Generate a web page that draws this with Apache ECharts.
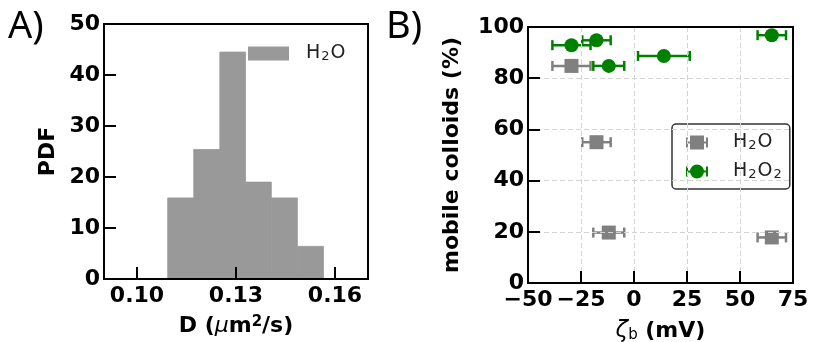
<!DOCTYPE html>
<html>
<head>
<meta charset="utf-8">
<script src="https://cdn.jsdelivr.net/npm/echarts@6/dist/echarts.min.js"></script>
<style>
  html, body { margin: 0; padding: 0; background: #fff; }
  #chart { width: 813px; height: 342px; }
</style>
</head>
<body>
<div id="chart"></div>
<script>
// A) histogram of D
const binEdges = [0.1093, 0.1172, 0.1251, 0.1329, 0.1407, 0.1486, 0.1565];
const pdfValues = [15.9, 25.4, 44.5, 19.0, 15.9, 6.4];
const dTicks = [0.10, 0.13, 0.16];

// B) mobile colloids vs zeta potential
const zetaH2O = [-29.5, -17.7, -11.9, 65.0];
const mobileH2O = [84.8, 55.0, 19.7, 17.8];
const errH2O = [9.0, 6.7, 7.3, 6.7];
const zetaH2O2 = [-29.5, -17.7, -11.9, 14.1, 65.0];
const mobileH2O2 = [92.9, 94.8, 84.8, 88.7, 96.8];
const errH2O2 = [9.0, 6.7, 7.3, 12.2, 6.7];

const FONT = 'DejaVu Sans';
const GRAY_HIST = '#999999';
const GRAY = '#808080';
const GREEN = '#008000';

const chart = echarts.init(document.getElementById('chart'));

const histData = pdfValues.map((h, i) => [binEdges[i], binEdges[i + 1], h]);
const zip = (xs, ys, es) => xs.map((x, i) => [x, ys[i], es[i]]);

const tickLabel = { color: '#000', fontFamily: FONT, fontWeight: 'bold', fontSize: 22 };
const axisTick = { show: true, inside: true, length: 12, lineStyle: { color: '#000', width: 2 } };
const noLine = { show: false, onZero: false };
const bold = { fontFamily: FONT, fontWeight: 'bold', fontSize: 22, color: '#000' };
const gridLine = { show: true, lineStyle: { color: '#d4d4d4', type: [5, 3], width: 1 } };

// legend text with real subscripts
const legendRich = {
  n: { fontFamily: FONT, fontSize: 19, color: '#222' },
  s: { fontFamily: FONT, fontSize: 13, color: '#222', verticalAlign: 'bottom', padding: [6, 1, 0, 1] },
};
const chem = (name) => name === 'H₂O₂' ? '{n|H}{s|2}{n|O}{s|2}' : '{n|H}{s|2}{n|O}';

function errorBarItem(color, marker) {
  return (params, api) => {
    const x = api.value(0), y = api.value(1), e = api.value(2);
    const p = api.coord([x, y]);
    const l = api.coord([x - e, y]);
    const r = api.coord([x + e, y]);
    const cap = 5;
    const ls = { stroke: color, lineWidth: 2.5 };
    const children = [
      { type: 'line', shape: { x1: l[0], y1: p[1], x2: r[0], y2: p[1] }, style: ls },
      { type: 'line', shape: { x1: l[0], y1: p[1] - cap, x2: l[0], y2: p[1] + cap }, style: ls },
      { type: 'line', shape: { x1: r[0], y1: p[1] - cap, x2: r[0], y2: p[1] + cap }, style: ls },
    ];
    if (marker === 'square') {
      children.push({ type: 'rect', shape: { x: p[0] - 7, y: p[1] - 7, width: 14, height: 14 }, style: { fill: color } });
    } else {
      children.push({ type: 'circle', shape: { cx: p[0], cy: p[1], r: 7 }, style: { fill: color } });
    }
    return { type: 'group', children };
  };
}

const squareIcon = 'path://M0,2h2v10h-2z M2,6h20v2h-20z M20,2h2v10h-2z M4,0h14v14h-14z';
const circleIcon = 'path://M0,2h2v10h-2z M2,6h20v2h-20z M20,2h2v10h-2z M4,7a7,7 0 1,1 14,0a7,7 0 1,1 -14,0z';

const panelFont = "'Liberation Sans Narrow', 'Noto Sans'";

const option = {
  animation: false,
  backgroundColor: '#fff',
  graphic: [
    { type: 'text', x: 8, y: 8, style: { text: 'A)', fontFamily: panelFont, fontSize: 38, fill: '#000' } },
    { type: 'text', x: 386, y: 8, style: { text: 'B)', fontFamily: panelFont, fontSize: 38, fill: '#000' } },
  ],
  grid: [
    { left: 104, top: 24, width: 264, height: 255, outerBoundsMode: 'none', show: true, borderColor: '#000', borderWidth: 2, backgroundColor: 'transparent', z: 10 },
    { left: 528, top: 27, width: 265, height: 256, outerBoundsMode: 'none', show: true, borderColor: '#000', borderWidth: 2, backgroundColor: 'transparent', z: 10 },
  ],
  legend: [
    {
      left: 248, top: 44, padding: 0, itemWidth: 41, itemHeight: 14,
      data: [{ name: 'H₂O', icon: 'rect', itemStyle: { color: GRAY_HIST } }],
      formatter: chem,
      textStyle: { padding: [0, 0, 0, 12], rich: legendRich },
      selectedMode: false,
    },
    {
      left: 672, top: 124, orient: 'vertical', itemGap: 10, itemWidth: 22, itemHeight: 14,
      padding: [9, 8, 8, 14], borderColor: '#333', borderWidth: 1.5, borderRadius: 4,
      backgroundColor: '#fff',
      data: [
        { name: 'H₂O', icon: squareIcon, itemStyle: { color: GRAY } },
        { name: 'H₂O₂', icon: circleIcon, itemStyle: { color: GREEN } },
      ],
      formatter: chem,
      textStyle: { padding: [0, 0, 0, 20], rich: legendRich },
      selectedMode: false,
    },
  ],
  xAxis: [
    {
      type: 'value', gridIndex: 0, min: 0.09, max: 0.17, z: 5,
      axisLine: noLine,
      axisTick: Object.assign({ customValues: dTicks }, axisTick),
      axisLabel: Object.assign({ customValues: dTicks, margin: 6, formatter: (v) => v.toFixed(2) }, tickLabel),
      splitLine: { show: false },
      name: '{b|D (}{i|μ}{b|m}{sup|2}{b|/s)}',
      nameLocation: 'middle', nameGap: 36,
      nameTextStyle: {
        rich: {
          b: bold,
          i: { fontFamily: FONT, fontStyle: 'italic', fontSize: 22, color: '#000' },
          sup: { fontFamily: FONT, fontWeight: 'bold', fontSize: 15, color: '#000', verticalAlign: 'top', padding: [0, 0, 8, 0] },
        },
      },
    },
    {
      type: 'value', gridIndex: 1, min: -50, max: 75, interval: 25, z: 5,
      axisLine: noLine,
      axisTick: axisTick,
      axisLabel: Object.assign({ margin: 6, formatter: (v) => String(v).replace('-', '\u2212') }, tickLabel),
      splitLine: gridLine,
      name: '{i|ζ}{sub|b}{b| (mV)}',
      nameLocation: 'middle', nameGap: 37,
      nameTextStyle: {
        rich: {
          b: bold,
          i: { fontFamily: FONT, fontStyle: 'italic', fontSize: 23, color: '#000' },
          sub: { fontFamily: FONT, fontSize: 15, color: '#000', verticalAlign: 'bottom', padding: [8, 0, 0, 0] },
        },
      },
    },
  ],
  yAxis: [
    {
      type: 'value', gridIndex: 0, min: 0, max: 50, interval: 10, z: 5,
      axisLine: noLine,
      axisTick: axisTick,
      axisLabel: Object.assign({ margin: 4 }, tickLabel),
      splitLine: { show: false },
      name: 'PDF', nameLocation: 'middle', nameGap: 45, nameTextStyle: bold,
    },
    {
      type: 'value', gridIndex: 1, min: 0, max: 100, interval: 20, z: 5,
      axisLine: noLine,
      axisTick: axisTick,
      axisLabel: Object.assign({ margin: 4 }, tickLabel),
      splitLine: gridLine,
      name: 'mobile colloids (%)', nameLocation: 'middle', nameGap: 65, nameTextStyle: bold,
    },
  ],
  series: [
    {
      name: 'H₂O', type: 'custom', xAxisIndex: 0, yAxisIndex: 0,
      itemStyle: { color: GRAY_HIST },
      encode: { x: [0, 1], y: 2 },
      data: histData,
      renderItem: (params, api) => {
        const p0 = api.coord([api.value(0), 0]);
        const p1 = api.coord([api.value(1), api.value(2)]);
        return {
          type: 'rect',
          shape: { x: p0[0], y: p1[1], width: p1[0] - p0[0], height: p0[1] - p1[1] },
          style: { fill: GRAY_HIST, stroke: GRAY_HIST, lineWidth: 0.8 },
        };
      },
    },
    {
      name: 'H₂O', type: 'custom', xAxisIndex: 1, yAxisIndex: 1,
      itemStyle: { color: GRAY },
      encode: { x: 0, y: 1 },
      data: zip(zetaH2O, mobileH2O, errH2O),
      renderItem: errorBarItem(GRAY, 'square'),
    },
    {
      name: 'H₂O₂', type: 'custom', xAxisIndex: 1, yAxisIndex: 1,
      itemStyle: { color: GREEN },
      encode: { x: 0, y: 1 },
      data: zip(zetaH2O2, mobileH2O2, errH2O2),
      renderItem: errorBarItem(GREEN, 'circle'),
    },
  ],
};

chart.setOption(option);
</script>
</body>
</html>
